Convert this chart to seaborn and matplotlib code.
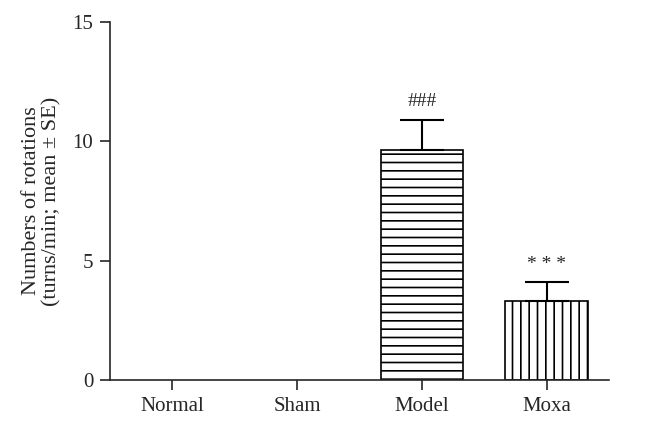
import numpy as np
import pandas as pd
import seaborn as sns
import matplotlib.pyplot as plt

# data
groups = ["Normal", "Sham", "Model", "Moxa"]
means = [0.0, 0.0, 9.65, 3.3]
se = [0.0, 0.0, 1.25, 0.8]
marks = ["", "", "###", "* * *"]
hatches = ["", "", "--", "||"]

df = pd.DataFrame({"group": groups, "rot": means})

sns.set_style("ticks")
plt.rcParams["font.family"] = ["Liberation Serif", "DejaVu Serif"]
plt.rcParams["hatch.linewidth"] = 1.2
plt.rcParams["hatch.color"] = "black"

fig = plt.figure(figsize=(6.65, 4.29), dpi=100)
ax = fig.add_axes([0.1654, 0.1142, 0.7504, 0.8345])

sns.barplot(data=df, x="group", y="rot", color="white", width=0.66,
            edgecolor="black", linewidth=1.2, errorbar=None, ax=ax)

for bar, h, m in zip(ax.patches, hatches, means):
    bar.set_hatch(h)
    if m == 0:
        bar.set_edgecolor("none")

# one-sided SE bars, only where there is a bar
for i, (m, e, t) in enumerate(zip(means, se, marks)):
    if m == 0:
        continue
    ax.errorbar(i, m, yerr=[[0], [e]], fmt="none", ecolor="black",
                elinewidth=1.5, capsize=16, capthick=1.5)
    ax.text(i, m + e + 0.4, t, ha="center", va="bottom", fontsize=14)

ax.set_xlim(-0.5, 3.5)
ax.set_ylim(0, 15)
ax.set_yticks([0, 5, 10, 15])
ax.set_xlabel("")
ax.set_ylabel("Numbers of rotations\n(turns/min; mean \u00b1 SE)", fontsize=16,
              labelpad=8, linespacing=1.1)
ax.tick_params(labelsize=15, length=7, width=1.2, direction="out", pad=5)
for s in ["left", "bottom"]:
    ax.spines[s].set_linewidth(1.2)
sns.despine(ax=ax)

fig.savefig("out.png", dpi=100)
